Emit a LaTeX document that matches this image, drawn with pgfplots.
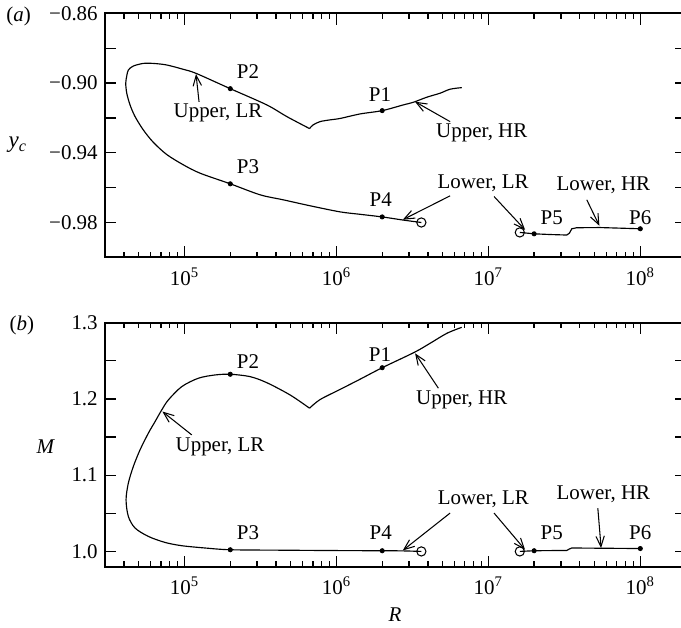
\documentclass[border=0pt]{standalone}
\usepackage{fontspec}
\setmainfont{Liberation Serif}
\usepackage{pgfplots}
\pgfplotsset{compat=1.18}
\usetikzlibrary{arrows.meta}
\tikzset{arr/.style={-{Straight Barb[length=5pt,width=4pt]}, line width=0.5pt}}
\begin{document}
\begin{tikzpicture}
\useasboundingbox (-50.15pt,-176.4pt) rectangle (274.8pt,122.8pt);
% ---------------- panel (a)
\begin{axis}[xmode=log, width=277.2pt, height=116.4pt, scale only axis,
    xmin=3e4, xmax=2e8,
    xtick={1e5,1e6,1e7,1e8},
    xticklabels={10\textsuperscript{5},10\textsuperscript{6},10\textsuperscript{7},10\textsuperscript{8}},
    minor xtick={4e4,5e4,6e4,7e4,8e4,9e4,2e5,3e5,4e5,5e5,6e5,7e5,8e5,9e5,2e6,3e6,4e6,5e6,6e6,7e6,8e6,9e6,2e7,3e7,4e7,5e7,6e7,7e7,8e7,9e7},
    major tick length=5.3pt, minor tick length=2.7pt,
    tick align=inside, tick pos=both,
    axis line style={line width=0.9pt},
    every tick/.style={black, line width=0.6pt},
    tick label style={font=\fontsize{10}{12}\selectfont},
    xticklabel style={yshift=-1.5pt},
    clip=false,
    at={(0,0)}, ymin=-1.0, ymax=-0.86,
  ytick={-0.98,-0.96,-0.94,-0.92,-0.90,-0.88,-0.86},
  yticklabels={−0.98,,−0.94,,−0.90,,−0.86}]
\addplot[black, line width=0.55pt, smooth, tension=0.5] coordinates {
(3.62e6,-0.9800) (2.745e6,-0.9786) (2e6,-0.9768) (1.43e6,-0.9753) (1.056e6,-0.9739)
(6.70e5,-0.9704) (4.472e5,-0.9670) (3.141e5,-0.9641) (2e5,-0.9578) (1.265e5,-0.9517)
(9.82e4,-0.9469) (7.637e4,-0.9410) (6.232e4,-0.9340) (5.356e4,-0.9269) (4.722e4,-0.9192)
(4.377e4,-0.9125) (4.165e4,-0.9058) (4.102e4,-0.9001) (4.165e4,-0.8959) (4.266e4,-0.8925)
(4.601e4,-0.8902) (5.356e4,-0.8887) (6.232e4,-0.8887) (7.637e4,-0.8896) (9.82e4,-0.8921)
(1.19e5,-0.8944) (2e5,-0.9032) (3.476e5,-0.9125) (4.708e5,-0.9192) (6.65e5,-0.9261)};
\addplot[black, line width=0.55pt, smooth, tension=0.5] coordinates {
(6.65e5,-0.9261) (7.015e5,-0.9240) (7.798e5,-0.9221) (9.077e5,-0.9211) (1.056e6,-0.9203)
(1.43e6,-0.9177) (2e6,-0.9158) (2.757e6,-0.9125) (3.208e6,-0.9110) (3.931e6,-0.9081)
(4.809e6,-0.9058) (5.596e6,-0.9035) (6.68e6,-0.9026)};
\addplot[black, line width=0.55pt] coordinates {
(1.61e7,-0.9857) (2e7,-0.9865) (2.548e7,-0.9869) (3.282e7,-0.9872) (3.415e7,-0.9861)
(3.541e7,-0.9836) (3.819e7,-0.9830) (5.438e7,-0.9829) (1e8,-0.9836)};
\addplot[black, only marks, mark=*, mark size=1pt] coordinates {
(2e6,-0.9158) (2e5,-0.9032) (2e5,-0.9578) (2e6,-0.9768) (2e7,-0.9865) (1e8,-0.9836)};
\addplot[black, only marks, mark=o, mark size=2.2pt, mark options={line width=0.5pt}] coordinates {
(3.62e6,-0.9800) (1.61e7,-0.9857)};
\node at (axis cs:2.618e5,-0.8936) {P2};
\node at (axis cs:2.618e5,-0.9481) {P3};
\node at (axis cs:1.936e6,-0.9068) {P1};
\node at (axis cs:1.957e6,-0.9670) {P4};
\node at (axis cs:2.615e7,-0.9773) {P5};
\node at (axis cs:1e8,-0.9773) {P6};
\node at (axis cs:1.662e5,-0.9171) {Upper, LR};
\node at (axis cs:9.05e6,-0.9286) {Upper, HR};
\node at (axis cs:9.23e6,-0.9572) {Lower, LR};
\node at (axis cs:5.717e7,-0.9584) {Lower, HR};
\draw[arr] (axis cs:1.246e5,-0.9108) -- (axis cs:1.19e5,-0.8948);
\draw[arr] (axis cs:5.596e6,-0.9221) -- (axis cs:3.293e6,-0.9107);
\draw[arr] (axis cs:5.596e6,-0.9647) -- (axis cs:2.733e6,-0.9784);
\draw[arr] (axis cs:1.090e7,-0.9651) -- (axis cs:1.744e7,-0.9842);
\draw[arr] (axis cs:4.444e7,-0.9670) -- (axis cs:5.38e7,-0.9819);
\end{axis}
\node at (-41.6pt,53.6pt) {\fontsize{11}{13}\selectfont\textit{y}\textsubscript{\textit{c}}};
\node at (-41.3pt,114.8pt) {(\textit{a})};
% ---------------- panel (b)
\begin{axis}[xmode=log, width=277.2pt, height=116.4pt, scale only axis,
    xmin=3e4, xmax=2e8,
    xtick={1e5,1e6,1e7,1e8},
    xticklabels={10\textsuperscript{5},10\textsuperscript{6},10\textsuperscript{7},10\textsuperscript{8}},
    minor xtick={4e4,5e4,6e4,7e4,8e4,9e4,2e5,3e5,4e5,5e5,6e5,7e5,8e5,9e5,2e6,3e6,4e6,5e6,6e6,7e6,8e6,9e6,2e7,3e7,4e7,5e7,6e7,7e7,8e7,9e7},
    major tick length=5.3pt, minor tick length=2.7pt,
    tick align=inside, tick pos=both,
    axis line style={line width=0.9pt},
    every tick/.style={black, line width=0.6pt},
    tick label style={font=\fontsize{10}{12}\selectfont},
    xticklabel style={yshift=-1.5pt},
    clip=false,
    at={(0,-147.6pt)}, ymin=0.98, ymax=1.3,
  ytick={1.0,1.05,1.1,1.15,1.2,1.25,1.3},
  yticklabels={1.0,,1.1,,1.2,,1.3}]
\addplot[black, line width=0.55pt, smooth, tension=0.5] coordinates {
(3.62e6,1.0000) (2.733e6,1.0007) (2e6,1.0009) (1.056e6,1.0011) (4.472e5,1.0016)
(2e5,1.0022) (1.365e5,1.0045) (9.585e4,1.0075) (7.44e4,1.0118) (5.778e4,1.0197)
(4.722e4,1.0307) (4.266e4,1.0459) (4.121e4,1.0677) (4.266e4,1.0896) (4.601e4,1.1114)
(5.093e4,1.1332) (5.778e4,1.1551) (6.396e4,1.1703) (7.078e4,1.1856) (7.824e4,1.1987)
(9.585e4,1.2162) (1.233e5,1.2272) (1.588e5,1.2315) (2e5,1.2324) (2.7e5,1.2293)
(3.476e5,1.2214) (4.949e5,1.2053) (6.65e5,1.1879)};
\addplot[black, line width=0.55pt, smooth, tension=0.5] coordinates {
(6.65e5,1.1879) (7.798e5,1.1992) (1.056e6,1.2125) (1.43e6,1.2259) (2e6,1.2410)
(3.257e6,1.2612) (4.132e6,1.2730) (5.324e6,1.2861) (6.68e6,1.2940)};
\addplot[black, line width=0.55pt] coordinates {
(1.61e7,1.0000) (2e7,1.0009) (3.28e7,1.0013) (3.40e7,1.0030) (3.54e7,1.0045)
(5.5e7,1.0042) (1e8,1.0038)};
\addplot[black, only marks, mark=*, mark size=1pt] coordinates {
(2e6,1.2410) (2e5,1.2324) (2e5,1.0022) (2e6,1.0009) (2e7,1.0009) (1e8,1.0038)};
\addplot[black, only marks, mark=o, mark size=2.2pt, mark options={line width=0.5pt}] coordinates {
(3.62e6,1.0000) (1.61e7,1.0000)};
\node at (axis cs:2.618e5,1.2489) {P2};
\node at (axis cs:2.618e5,1.0245) {P3};
\node at (axis cs:1.936e6,1.2577) {P1};
\node at (axis cs:1.957e6,1.0241) {P4};
\node at (axis cs:2.615e7,1.0241) {P5};
\node at (axis cs:1e8,1.0241) {P6};
\node at (axis cs:1.713e5,1.1376) {Upper, LR};
\node at (axis cs:6.68e6,1.1987) {Upper, HR};
\node at (axis cs:9.27e6,1.0687) {Lower, LR};
\node at (axis cs:5.717e7,1.0756) {Lower, HR};
\draw[arr] (axis cs:1.115e5,1.1529) -- (axis cs:7.15e4,1.1835);
\draw[arr] (axis cs:4.688e6,1.2141) -- (axis cs:3.293e6,1.2599);
\draw[arr] (axis cs:5.596e6,1.0503) -- (axis cs:2.733e6,1.0013);
\draw[arr] (axis cs:1.090e7,1.0503) -- (axis cs:1.744e7,1.0022);
\draw[arr] (axis cs:5.252e7,1.0569) -- (axis cs:5.521e7,1.0045);
\end{axis}
\node at (-28.3pt,-90.4pt) {\textit{M}};
\node at (-39.7pt,-32.3pt) {(\textit{b})};
\node at (138.3pt,-170.7pt) {\textit{R}};
\end{tikzpicture}
\end{document}
